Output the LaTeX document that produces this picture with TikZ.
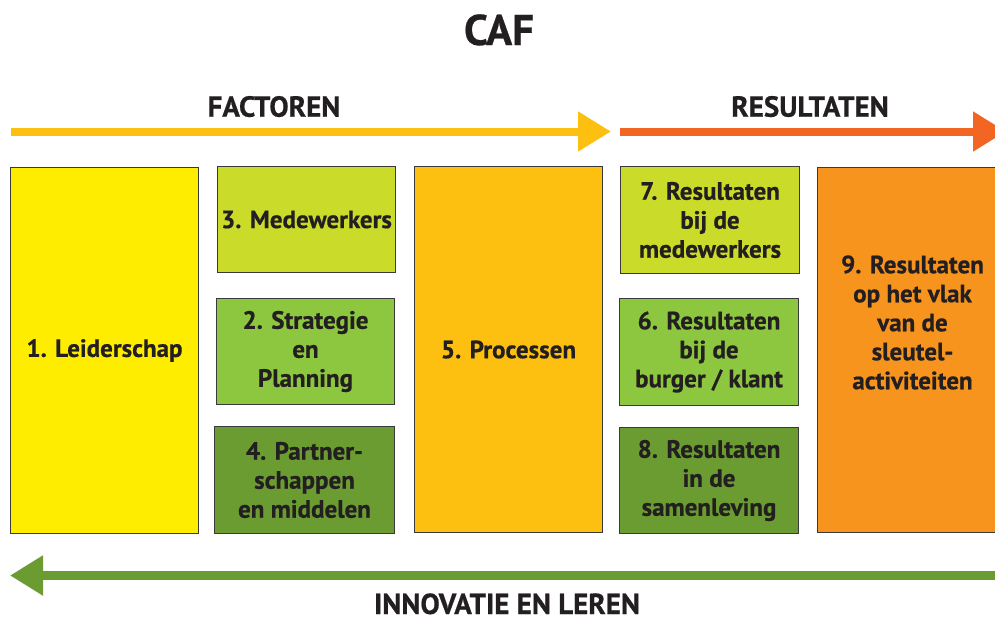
\documentclass[tikz,border=0pt]{standalone}
\usepackage{fontspec}
\setmainfont{PT Sans}[BoldFeatures={FakeBold=0.6}]
\usetikzlibrary{arrows.meta}

\definecolor{cafText}{HTML}{231F20}
\definecolor{cafRand}{HTML}{3A3A3A}
\definecolor{cafGelb}{HTML}{FFED00}
\definecolor{cafLimette}{HTML}{CBDB2A}
\definecolor{cafGruen}{HTML}{8DC63F}
\definecolor{cafDunkelgruen}{HTML}{6A9C31}
\definecolor{cafBernstein}{HTML}{FDC010}
\definecolor{cafOrange}{HTML}{F7941E}
\definecolor{cafRot}{HTML}{F26522}

\begin{document}
\begin{tikzpicture}[
    x=1pt, y=-1pt,
    font=\bfseries\fontsize{25}{29}\selectfont,
    text=cafText,
    % Styles für Konsistenz
    box/.style={draw=cafRand, line width=1pt, anchor=north west, align=center, inner sep=0pt},
    title/.style={anchor=base, inner sep=0pt, font=\bfseries\fontsize{29}{32}\selectfont},
    band/.style={line width=8pt, -{Triangle[length=33pt, width=38pt]}}
]
\useasboundingbox (0,0) rectangle (995,624);
\clip (0,0) rectangle (995,624);

% --- TITEL ---
\node[title, font=\bfseries\fontsize{43}{46}\selectfont] (caf) at (499,45) {CAF};
\node[title] (factoren) at (274,116.7) {FACTOREN};
\node[title] (resultaten) at (810,116.7) {RESULTATEN};
\node[title] (innovatie) at (507,614) {INNOVATIE EN LEREN};

% --- PFEILE ---
\coordinate (facA) at (11,131.5);
\coordinate (facB) at (611,131.5);
\coordinate (resA) at (620,131.5);
\coordinate (resB) at (1006,131.5);
\coordinate (innA) at (1000,575.5);
\coordinate (innB) at (10,575.5);
\draw[band, cafBernstein] (facA) -- (facB);
\draw[band, cafRot] (resA) -- (resB);
\draw[band, cafDunkelgruen, line width=9pt] (innA) -- (innB);

% --- FACTOREN ---
\node[box, fill=cafGelb, minimum width=188pt, minimum height=366pt] (leider) at (10,167) {1. Leiderschap};
\node[box, fill=cafLimette, minimum width=178pt, minimum height=106pt] (medew) at (217,166) {3. Medewerkers};
\node[box, fill=cafGruen, minimum width=178pt, minimum height=106pt] (strat) at (216,298) {2. Strategie\\en\\Planning};
\node[box, fill=cafDunkelgruen, minimum width=180pt, minimum height=107pt] (partner) at (214,426) {4. Partner-\\schappen\\en middelen};
\node[box, fill=cafBernstein, minimum width=188pt, minimum height=366pt] (proc) at (414,166) {5. Processen};

% --- RESULTATEN ---
\node[box, fill=cafLimette, minimum width=179pt, minimum height=107pt] (resMed) at (620,166) {7. Resultaten\\bij de\\medewerkers};
\node[box, fill=cafGruen, minimum width=179pt, minimum height=107pt] (resBurg) at (619,298) {6. Resultaten\\bij de\\burger / klant};
\node[box, fill=cafDunkelgruen, minimum width=179pt, minimum height=106pt] (resSam) at (619,427) {8. Resultaten\\in de\\samenleving};
\node[box, fill=cafOrange, minimum width=190pt, minimum height=365pt] (sleutel) at (817,167) {};
\node[align=center, inner sep=0pt] (sleutelTxt) at ([yshift=27.5pt]sleutel.center) {9. Resultaten\\op het vlak\\van de\\sleutel-\\activiteiten};

\end{tikzpicture}
\end{document}
